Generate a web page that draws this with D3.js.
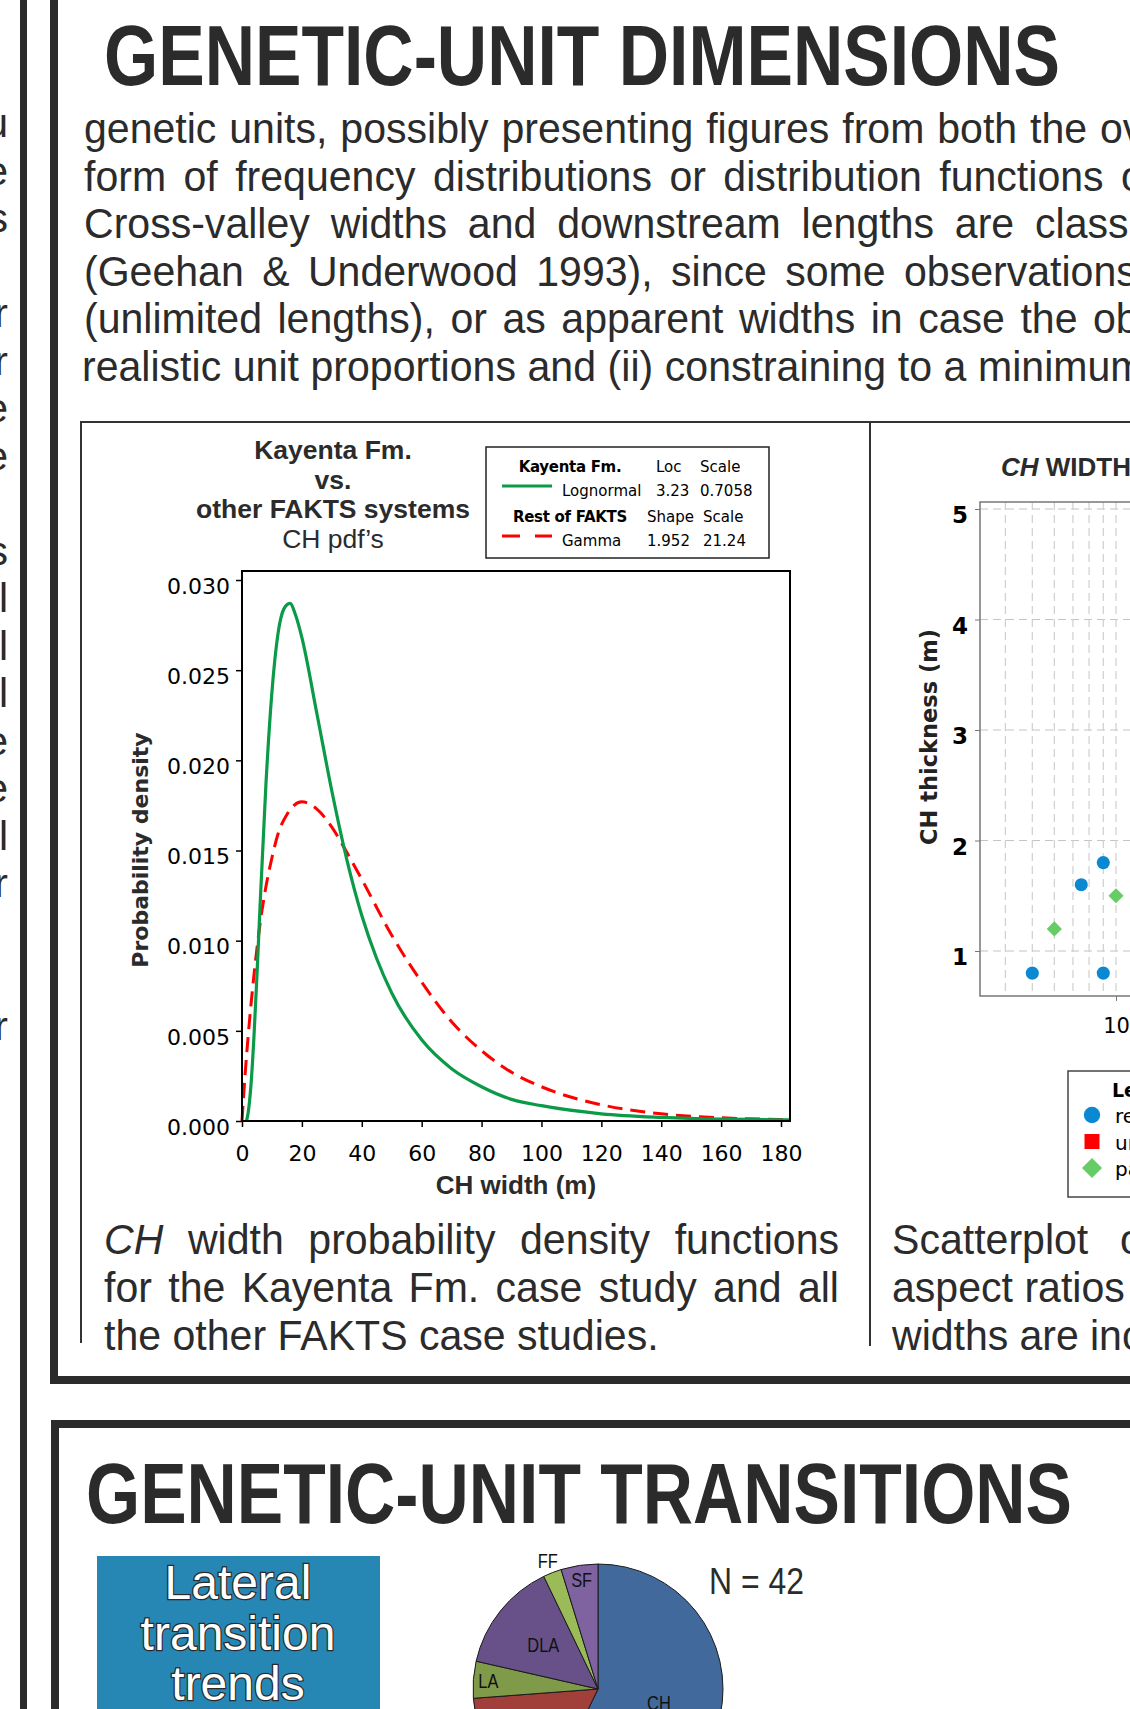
<!DOCTYPE html>
<html>
<head>
<meta charset="utf-8">
<script src="https://cdn.jsdelivr.net/npm/d3@7"></script>
<style>
  html, body { margin: 0; padding: 0; background: #fff; overflow: hidden; }
  svg { display: block; }
</style>
</head>
<body>
<svg id="poster" width="1130" height="1709"></svg>
<script>
// ---- data ----
const widthTicks = [0, 20, 40, 60, 80, 100, 120, 140, 160, 180];
const densityTicks = [0, 0.005, 0.010, 0.015, 0.020, 0.025, 0.030];

// Kayenta Fm. lognormal pdf (green)
const kayentaWidth   = [1.5, 2, 3, 4, 5, 6, 8, 10, 12, 14, 16, 18, 20, 25, 30, 35, 40, 45, 50, 60, 70, 80, 90, 100, 120, 140, 160, 180, 183];
const kayentaDensity = [0, 0.0004, 0.002, 0.0047, 0.0081, 0.0118, 0.0187, 0.0238, 0.0270, 0.0284, 0.0287, 0.0280, 0.0268, 0.0226, 0.0183, 0.0145, 0.0114, 0.0090, 0.0071, 0.0045, 0.0029, 0.0019, 0.0012, 0.00085, 0.0004, 0.0002, 0.0001, 0.00007, 0.00006];

// rest of FAKTS gamma pdf (red dashed)
const restWidth   = [0, 1, 2, 4, 6, 8, 10, 12, 15, 20, 25, 30, 35, 40, 50, 60, 70, 80, 90, 100, 120, 140, 160, 180, 183];
const restDensity = [0, 0.0025, 0.0046, 0.0081, 0.0109, 0.0130, 0.0146, 0.0159, 0.0170, 0.0177, 0.0173, 0.0163, 0.0149, 0.0134, 0.0103, 0.0077, 0.0055, 0.0039, 0.0027, 0.0019, 0.0009, 0.0004, 0.00018, 0.00008, 0.00007];

const fitNames = ["Kayenta Fm.", "Rest of FAKTS"];
const fitDistributions = ["Lognormal", "Gamma"];
const fitParamNames = [["Loc", "Scale"], ["Shape", "Scale"]];
const fitParamValues = [["3.23", "0.7058"], ["1.952", "21.24"]];

// CH width vs thickness scatter (visible part)
const thicknessTicks = [1, 2, 3, 4, 5];
const scatterWidthTicks = [10];
const scatterGridWidths = [4, 5, 6, 7, 8, 9, 10];
const scatterWidth     = [5, 9, 7.5, 9, 6, 10];
const scatterThickness = [0.8, 0.8, 1.6, 1.8, 1.2, 1.5];
const scatterType      = ["real", "real", "real", "real", "partial", "partial"];
const scatterLegend    = ["real", "unlimited", "partial"];

// lateral transitions pie
const pieUnits  = ["CH", "CS", "LA", "DLA", "FF", "SF"];
const pieCounts = [24, 7, 2, 6, 1, 2];

// ---- text ----
const introLines = [
  { words: "genetic units, possibly presenting figures from both the overall", lastStart: 1100 },
  { words: "form of frequency distributions or distribution functions of", lastStart: 1121 },
  { words: "Cross-valley widths and downstream lengths are classified", lastStart: 1035 },
  { words: "(Geehan & Underwood 1993), since some observations", lastStart: 904 },
  { words: "(unlimited lengths), or as apparent widths in case the observations", lastStart: 1093 },
  { words: "realistic unit proportions and (ii) constraining to a minimum", lastStart: 978 }
];
const leftTails = ["u", "e", "s", "", "r", "r", "e", "e", "", "s", "l", "l", "l", "e", "e", "l", "r", "", "", "r"];

const SANS = "'Liberation Sans', Arial, Helvetica, sans-serif";
const VERD = "'DejaVu Sans', Verdana, sans-serif";
const DARK = "#2b2b2b";
const BODY_SIZE = 43, BODY_SX = 0.955;

const svg = d3.select("#poster");
const W = 1130, H = 1709;

// place the words of a justified line (slightly condensed body face)
function wordLine(parent, words, x0, y, opt) {
  const t = parent.append("text").attr("transform", `translate(${x0},${y}) scale(${BODY_SX},1)`)
    .attr("font-family", SANS).attr("font-size", BODY_SIZE).attr("fill", DARK);
  const spans = words.map(w => {
    const obj = typeof w === "object";
    return t.append("tspan").text(obj ? w.t : w).attr("font-style", obj && w.i ? "italic" : null);
  });
  const widths = spans.map(s => s.node().getComputedTextLength() * BODY_SX);
  const n = words.length;
  let gap = 0.278 * BODY_SIZE * BODY_SX;
  if (n > 1 && opt.end != null) gap = (opt.end - x0 - d3.sum(widths)) / (n - 1);
  if (n > 1 && opt.lastStart != null) gap = (opt.lastStart - x0 - d3.sum(widths.slice(0, -1))) / (n - 1);
  let x = 0;
  spans.forEach((s, i) => { s.attr("x", x / BODY_SX); x += widths[i] + gap; });
  return t;
}

// squeeze a text horizontally (narrow face look)
function squeeze(sel, k) {
  sel.each(function () {
    const len = this.getComputedTextLength();
    d3.select(this).attr("textLength", len * k).attr("lengthAdjust", "spacingAndGlyphs");
  });
}

// ---- frames ----
svg.append("rect").attr("x", 20).attr("y", 0).attr("width", 7).attr("height", H).attr("fill", DARK);
svg.append("path").attr("d", "M54,-10V1380H1140").attr("fill", "none").attr("stroke", DARK).attr("stroke-width", 8);
svg.append("path").attr("d", "M55,1720V1424H1140").attr("fill", "none").attr("stroke", DARK).attr("stroke-width", 8);

// tails of the neighbouring column
svg.append("g").selectAll("text").data(leftTails).join("text")
  .attr("x", 8).attr("y", (d, i) => 137 + i * 47.5).attr("text-anchor", "end")
  .attr("font-family", SANS).attr("font-size", 41).attr("fill", DARK).text(d => d);

// ---- section 1 heading + intro ----
svg.append("text").attr("x", 104).attr("y", 85)
  .attr("font-family", SANS).attr("font-weight", "bold").attr("font-size", 85)
  .attr("textLength", 956).attr("lengthAdjust", "spacingAndGlyphs")
  .attr("fill", DARK).text("GENETIC-UNIT DIMENSIONS");

const intro = svg.append("g");
introLines.forEach((l, i) => {
  wordLine(intro, l.words.split(" "), i === 5 ? 82 : 84, 143 + i * 47.5, { lastStart: l.lastStart });
});

// panel lines
svg.append("path").attr("d", "M81,1343V422H1140").attr("fill", "none").attr("stroke", "#333").attr("stroke-width", 2);
svg.append("line").attr("x1", 870).attr("x2", 870).attr("y1", 422).attr("y2", 1346).attr("stroke", "#333").attr("stroke-width", 2);

// ---- pdf chart ----
const pdf = svg.append("g");
const titleRows = [["Kayenta Fm.", "bold"], ["vs.", "bold"], ["other FAKTS systems", "bold"], ["CH pdf\u2019s", "normal"]];
pdf.selectAll("text.ttl").data(titleRows).join("text").attr("class", "ttl")
  .attr("x", 333).attr("y", (d, i) => 459 + i * 29.5).attr("text-anchor", "middle")
  .attr("font-family", SANS).attr("font-size", 26.5).attr("font-weight", d => d[1])
  .attr("fill", DARK).text(d => d[0]);

// legend box
const lg = pdf.append("g");
lg.append("rect").attr("x", 486).attr("y", 447).attr("width", 283).attr("height", 111)
  .attr("fill", "#fff").attr("stroke", "#222").attr("stroke-width", 1.5);
const paramCols = [[656, 700], [647, 703]];
const lineStyles = [{ c: "#0a9a48", dash: null }, { c: "#ff0000", dash: "18,15" }];
fitNames.forEach((name, i) => {
  const yh = 472 + i * 50, yv = yh + 24;
  lg.append("text").attr("x", 570).attr("y", yh).attr("text-anchor", "middle")
    .attr("font-family", VERD).attr("font-weight", "bold").attr("font-size", 15).attr("letter-spacing", -0.3).text(name);
  fitParamNames[i].forEach((p, j) => lg.append("text").attr("x", paramCols[i][j]).attr("y", yh)
    .attr("font-family", VERD).attr("font-size", 15).text(p));
  lg.append("line").attr("x1", 502).attr("x2", 552).attr("y1", yv - 10).attr("y2", yv - 10)
    .attr("stroke", lineStyles[i].c).attr("stroke-width", 3).attr("stroke-dasharray", lineStyles[i].dash);
  lg.append("text").attr("x", 562).attr("y", yv).attr("font-family", VERD).attr("font-size", 15).text(fitDistributions[i]);
  fitParamValues[i].forEach((p, j) => lg.append("text").attr("x", paramCols[i][j]).attr("y", yv)
    .attr("font-family", VERD).attr("font-size", 15).text(p));
});

const xPdf = d3.scaleLinear().domain([0, 183]).range([242, 790]);
const yPdf = d3.scaleLinear().domain([0, 0.0305]).range([1121, 571]);

const yAx = pdf.append("g").attr("transform", "translate(242,0)")
  .call(d3.axisLeft(yPdf).tickValues(densityTicks).tickFormat(d3.format(".3f")).tickSize(6).tickPadding(6));
const xAx = pdf.append("g").attr("transform", "translate(0,1121)")
  .call(d3.axisBottom(xPdf).tickValues(widthTicks).tickSize(6).tickPadding(18));
[yAx, xAx].forEach(a => {
  a.select(".domain").remove();
  a.selectAll("line").attr("stroke", "#000").attr("stroke-width", 1.5);
  a.selectAll("text").attr("font-family", VERD).attr("font-size", 22).attr("fill", "#000");
});
yAx.selectAll("text").attr("dy", "0.6em");

const lineGen = d3.line().curve(d3.curveMonotoneX);
pdf.append("path")
  .attr("d", lineGen(restWidth.map((w, i) => [xPdf(w), yPdf(restDensity[i])])))
  .attr("fill", "none").attr("stroke", "#ff0000").attr("stroke-width", 3).attr("stroke-dasharray", "15,8");
pdf.append("path")
  .attr("d", lineGen(kayentaWidth.map((w, i) => [xPdf(w), yPdf(kayentaDensity[i])])))
  .attr("fill", "none").attr("stroke", "#0a9a48").attr("stroke-width", 3.2);
pdf.append("rect").attr("x", 242).attr("y", 571).attr("width", 548).attr("height", 550)
  .attr("fill", "none").attr("stroke", "#000").attr("stroke-width", 2);

pdf.append("text").attr("transform", "translate(148,850) rotate(-90)").attr("text-anchor", "middle")
  .attr("font-family", VERD).attr("font-weight", "bold").attr("font-size", 22).attr("fill", DARK)
  .text("Probability density");
pdf.append("text").attr("x", 516).attr("y", 1194).attr("text-anchor", "middle")
  .attr("font-family", SANS).attr("font-weight", "bold").attr("font-size", 26).attr("fill", DARK)
  .text("CH width (m)");

// captions
const cap = svg.append("g");
wordLine(cap, [{ t: "CH", i: true }, "width", "probability", "density", "functions"], 104, 1254, { end: 839 });
wordLine(cap, ["for", "the", "Kayenta", "Fm.", "case", "study", "and", "all"], 104, 1302, { end: 839 });
wordLine(cap, ["the", "other", "FAKTS", "case", "studies."], 104, 1350, {});
wordLine(cap, ["Scatterplot", "of"], 892, 1254, { lastStart: 1120 });
wordLine(cap, ["aspect", "ratios"], 892, 1302, {});
wordLine(cap, ["widths", "are", "included"], 892, 1350, { lastStart: 1090 });

// ---- scatter chart (left part) ----
const sc = svg.append("g");
sc.append("text").attr("x", 1001).attr("y", 476).attr("font-family", SANS).attr("font-weight", "bold")
  .attr("font-size", 26).attr("fill", DARK)
  .call(t => { t.append("tspan").attr("font-style", "italic").text("CH"); t.append("tspan").text(" WIDTH vs. THICKNESS"); });

const xS = d3.scaleLog().domain([10, 100]).range([1116, 1394]);
const yS = d3.scaleLinear().domain([1, 5]).range([951, 509]);
const frame = { x0: 980, y0: 502, y1: 996 };

sc.append("g").selectAll("line").data(thicknessTicks).join("line")
  .attr("x1", frame.x0).attr("x2", W + 10).attr("y1", d => yS(d)).attr("y2", d => yS(d))
  .attr("stroke", "#c4c4c4").attr("stroke-width", 1.2).attr("stroke-dasharray", "8,5");
sc.append("g").selectAll("line").data(scatterGridWidths).join("line")
  .attr("x1", d => xS(d)).attr("x2", d => xS(d)).attr("y1", frame.y0).attr("y2", frame.y1)
  .attr("stroke", "#cfcfcf").attr("stroke-width", 1.2).attr("stroke-dasharray", "8,5");
sc.append("rect").attr("x", frame.x0).attr("y", frame.y0).attr("width", 400).attr("height", frame.y1 - frame.y0)
  .attr("fill", "none").attr("stroke", "#777").attr("stroke-width", 1.5);

const syAx = sc.append("g").attr("transform", `translate(${frame.x0},0)`)
  .call(d3.axisLeft(yS).tickValues(thicknessTicks).tickFormat(d3.format("d")).tickSize(5).tickPadding(7));
const sxAx = sc.append("g").attr("transform", `translate(0,${frame.y1})`)
  .call(d3.axisBottom(xS).tickValues(scatterWidthTicks).tickFormat(d3.format("d")).tickSize(5).tickPadding(17));
[syAx, sxAx].forEach(a => { a.select(".domain").remove(); a.selectAll("line").attr("stroke", "#777"); });
syAx.selectAll("text").attr("font-family", VERD).attr("font-weight", "bold").attr("font-size", 23)
  .attr("fill", "#000").attr("dy", "0.6em");
sxAx.selectAll("text").attr("font-family", VERD).attr("font-size", 21).attr("fill", "#000");

sc.append("text").attr("transform", "translate(937,737) rotate(-90)").attr("text-anchor", "middle")
  .attr("font-family", VERD).attr("font-weight", "bold").attr("font-size", 22.5).attr("fill", "#222")
  .text("CH thickness (m)");

// circles, squares and 45deg-turned squares
const symShape = { real: d3.symbolCircle, unlimited: d3.symbolSquare, partial: d3.symbolSquare };
const symTurn = { real: 0, unlimited: 0, partial: 45 };
const symColor = { real: "#0a88d2", unlimited: "#ff0000", partial: "#66cc66" };
sc.append("g").selectAll("path").data(scatterWidth).join("path")
  .attr("transform", (d, i) => `translate(${xS(d)},${yS(scatterThickness[i])}) rotate(${symTurn[scatterType[i]]})`)
  .attr("d", (d, i) => d3.symbol(symShape[scatterType[i]], scatterType[i] === "real" ? 135 : 115)())
  .attr("fill", (d, i) => symColor[scatterType[i]]);

// legend
const sl = sc.append("g");
sl.append("rect").attr("x", 1068).attr("y", 1071).attr("width", 200).attr("height", 126)
  .attr("fill", "#fff").attr("stroke", "#444").attr("stroke-width", 1.5);
sl.append("text").attr("x", 1112).attr("y", 1097).attr("font-family", VERD).attr("font-weight", "bold")
  .attr("font-size", 19).text("Legend");
const legendSize = { real: 210, unlimited: 225, partial: 200 };
scatterLegend.forEach((k, i) => {
  const y = 1115 + i * 26.5;
  sl.append("path").attr("transform", `translate(1092,${y}) rotate(${symTurn[k]})`)
    .attr("d", d3.symbol(symShape[k], legendSize[k])()).attr("fill", symColor[k]);
  sl.append("text").attr("x", 1115).attr("y", y + 8).attr("font-family", VERD).attr("font-size", 20).text(k);
});

// ---- section 2 ----
svg.append("text").attr("x", 86).attr("y", 1523)
  .attr("font-family", SANS).attr("font-weight", "bold").attr("font-size", 85)
  .attr("textLength", 986).attr("lengthAdjust", "spacingAndGlyphs")
  .attr("fill", DARK).text("GENETIC-UNIT TRANSITIONS");

svg.append("rect").attr("x", 97).attr("y", 1556).attr("width", 283).attr("height", 170).attr("fill", "#2787b4");
svg.append("g").selectAll("text").data(["Lateral", "transition", "trends"]).join("text")
  .attr("x", 238).attr("y", (d, i) => 1599 + i * 50.5).attr("text-anchor", "middle")
  .attr("font-family", SANS).attr("font-size", 48).attr("fill", "#fff")
  .attr("stroke", "#2a2a2a").attr("stroke-width", 2.5).attr("paint-order", "stroke").text(d => d);

const pieColors = ["#42699c", "#a13f3b", "#7f9a49", "#685189", "#9bbb59", "#7f63a1"];
const labelR = { CH: 0.5, CS: 0.6, LA: 0.88, DLA: 0.56, FF: 1.1, SF: 0.88 };
const R = 125, pc = [598, 1689];
const arcs = d3.pie().sort(null).value(d => d)(pieCounts);
const pg = svg.append("g").attr("transform", `translate(${pc[0]},${pc[1]})`);
pg.selectAll("path").data(arcs).join("path")
  .attr("d", d3.arc().innerRadius(0).outerRadius(R))
  .attr("fill", (d, i) => pieColors[i]).attr("stroke", "#1a1a1a").attr("stroke-width", 1);
pg.selectAll("text").data(arcs.filter((d, i) => {
    const a = (d.startAngle + d.endAngle) / 2;
    return pc[1] - Math.cos(a) * R * labelR[pieUnits[i]] < H;
  })).join("text")
  .attr("transform", d => {
    const a = (d.startAngle + d.endAngle) / 2, r = R * labelR[pieUnits[d.index]];
    return `translate(${Math.sin(a) * r},${-Math.cos(a) * r})`;
  })
  .attr("dy", "0.35em").attr("text-anchor", "middle")
  .attr("font-family", SANS).attr("font-size", 20).attr("fill", "#111")
  .text(d => pieUnits[d.index])
  .call(squeeze, 0.82);

svg.append("text").attr("x", 709).attr("y", 1594).attr("font-family", SANS).attr("font-size", 36)
  .attr("textLength", 95).attr("lengthAdjust", "spacingAndGlyphs")
  .attr("fill", DARK).text("N = " + d3.sum(pieCounts));
</script>
</body>
</html>
